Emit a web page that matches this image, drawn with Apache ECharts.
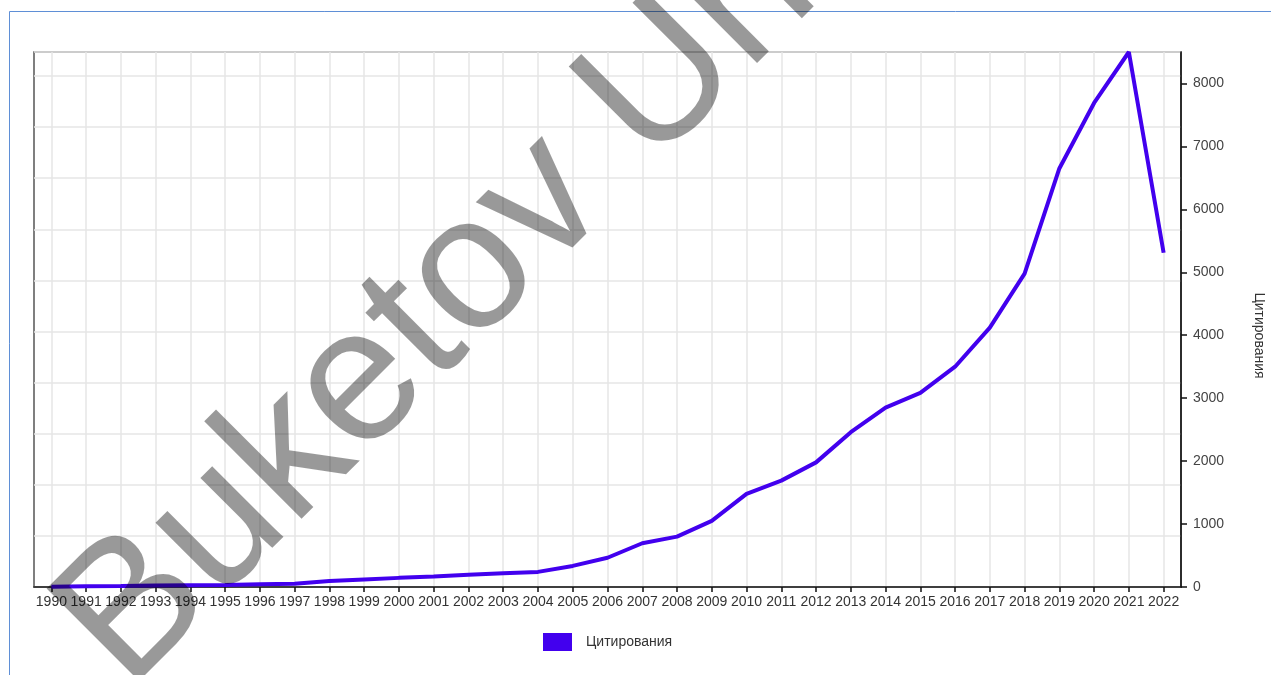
<!DOCTYPE html>
<html>
<head>
<meta charset="utf-8">
<script src="https://cdn.jsdelivr.net/npm/echarts@6/dist/echarts.min.js"></script>
<style>
html,body{margin:0;padding:0;background:#fff;}
#chart{width:1271px;height:675px;}
</style>
</head>
<body>
<div id="chart"></div>
<script>
var years = ['1990','1991','1992','1993','1994','1995','1996','1997','1998','1999','2000','2001','2002','2003','2004','2005','2006','2007','2008','2009','2010','2011','2012','2013','2014','2015','2016','2017','2018','2019','2020','2021','2022'];
var citations = [5,10,15,22,28,32,45,50,95,120,145,165,195,220,240,335,465,695,800,1050,1480,1690,1980,2460,2850,3085,3500,4120,4980,6650,7690,8500,5310];
var seriesName = 'Цитирования';
var axisName = 'Цитирования';
var watermarkText = 'Buketov University';

var FONT = '"Liberation Sans", Arial, Helvetica, sans-serif';
var chart = echarts.init(document.getElementById('chart'), null, {renderer: 'canvas'});
chart.setOption({
  animation: false,
  backgroundColor: '#ffffff',
  textStyle: {fontFamily: FONT},
  grid: {left: 34, right: 90, top: 52, bottom: 88, show: true, borderColor: '#555', borderWidth: 1.5,
    backgroundColor: 'transparent', containLabel: false, outerBoundsMode: 'none'},
  legend: {
    left: 543, top: 633, padding: 0, icon: 'rect', itemWidth: 29, itemHeight: 18,
    textStyle: {fontFamily: FONT, fontSize: 14, color: '#333', padding: [0, 0, 0, 9]},
    data: [seriesName]
  },
  xAxis: [{
    type: 'category', data: years, boundaryGap: true,
    axisLine: {show: true, lineStyle: {color: '#111', width: 1.5}},
    axisTick: {show: true, alignWithLabel: true, interval: 0, length: 5, lineStyle: {color: '#111', width: 1.5}},
    axisLabel: {interval: 0, fontSize: 14, color: '#333', margin: 8, fontFamily: FONT},
    splitLine: {show: true, alignWithLabel: true, interval: 0, lineStyle: {color: '#e6e6e6', width: 1.5}}
  }],
  yAxis: [{
    type: 'value', position: 'right', min: 0, max: 8500, interval: 1000,
    name: axisName, nameLocation: 'middle', nameGap: 71, nameRotate: -90,
    nameTextStyle: {fontSize: 14, color: '#333', fontFamily: FONT, padding: [0, 0, 0, 32]},
    axisLine: {show: true, lineStyle: {color: '#111', width: 1.5}},
    axisTick: {show: true, length: 6, lineStyle: {color: '#111', width: 1.5}},
    axisLabel: {fontSize: 14, color: '#444', margin: 12, showMaxLabel: false, fontFamily: FONT,
      formatter: function (v) { return String(v); }},
    splitLine: {show: false}
  }, {
    type: 'value', position: 'left', min: 0, max: 10.47, interval: 1,
    axisLine: {show: false}, axisTick: {show: false}, axisLabel: {show: false},
    splitLine: {show: true, lineStyle: {color: '#e6e6e6', width: 1.5}}
  }],
  series: [{
    name: seriesName, type: 'line', data: citations, xAxisIndex: 0, yAxisIndex: 0,
    symbol: 'none', smooth: false, z: 3,
    lineStyle: {color: '#4200ee', width: 4},
    itemStyle: {color: '#4200ee'}
  }],
  graphic: [
    {type: 'line', z: 1, shape: {x1: 9.5, y1: 11.5, x2: 1271, y2: 11.5}, style: {stroke: '#5f8fd6', lineWidth: 1}},
    {type: 'line', z: 1, shape: {x1: 9.5, y1: 11.5, x2: 9.5, y2: 675}, style: {stroke: '#5f8fd6', lineWidth: 1}},
    {type: 'text', z: 100, x: 91, y: 655, rotation: Math.PI / 4,
      style: {text: watermarkText, font: '190px ' + FONT, fill: 'rgba(0,0,0,0.4)', align: 'left', verticalAlign: 'middle', textAlign: 'left', textVerticalAlign: 'middle'}}
  ]
});
</script>
</body>
</html>
